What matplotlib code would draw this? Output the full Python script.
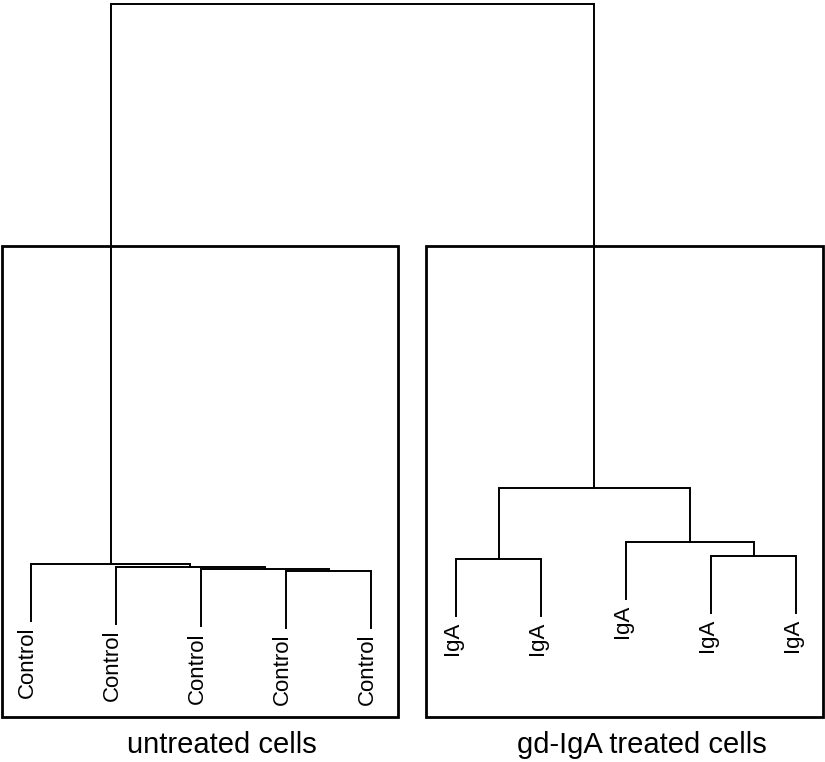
#!/usr/bin/env python
# coding: utf-8

import matplotlib
matplotlib.use('Agg')
from matplotlib import pyplot as plt
from matplotlib.patches import Rectangle

plt.rcParams['font.family'] = ['Liberation Sans', 'DejaVu Sans']

# leaves in plotting order
leaf_labels = ['Control'] * 5 + ['IgA'] * 5

# merges, R hclust style: negative = leaf number, positive = earlier merge (1-based)
merge_a = [-4, -3, -2, -1, -9, -6, -8, 6, 4]
merge_b = [-5, 1, 2, 3, -10, -7, 5, 7, 8]
merge_height = [10.85, 11.16, 11.48, 11.95, 13.21, 12.74, 15.41, 23.9, 100.0]

hang = 9.0

# cluster boxes (rect.hclust) and their captions
group_leaves = [(1, 5), (6, 10)]
group_names = ['untreated cells', 'gd-IgA treated cells']
group_label_x = [3.25, 8.19]


def node_position(idx, positions, heights):
    if idx < 0:
        return float(-idx), None
    return positions[idx - 1], heights[idx - 1]


def draw_dendrogram(ax):
    """
    Draws the dendrogram from the merge table, leaves hang below their parent.
    """
    positions = []
    for a, b, h in zip(merge_a, merge_b, merge_height):
        xa, ha = node_position(a, positions, merge_height)
        xb, hb = node_position(b, positions, merge_height)
        ya = h - hang if ha is None else ha
        yb = h - hang if hb is None else hb
        ax.plot([xa, xa, xb, xb], [ya, h, h, yb], color='k', lw=1.4,
                solid_joinstyle='miter', clip_on=False)
        if ha is None:
            ax.text(xa - 0.04, ya - 0.9, leaf_labels[-a - 1], rotation=90,
                    ha='center', va='top', fontsize=16)
        if hb is None:
            ax.text(xb - 0.04, yb - 0.9, leaf_labels[-b - 1], rotation=90,
                    ha='center', va='top', fontsize=16)
        positions.append((xa + xb) / 2)


fig = plt.figure(figsize=(8.25, 7.62), dpi=100)
ax = fig.add_axes([0, 0, 1, 1])
ax.set_xlim(0.635, 10.341)
ax.set_ylim(-19.18, 100.63)
ax.axis('off')

draw_dendrogram(ax)

pad_left = [0.347, 0.353]
pad_right = [0.318, 0.318]
box_top, box_bottom = 62.0, -12.1
for (lo, hi), pl, pr, name, lx in zip(group_leaves, pad_left, pad_right, group_names, group_label_x):
    ax.add_patch(Rectangle((lo - pl, box_bottom), (hi + pr) - (lo - pl), box_top - box_bottom,
                           fill=False, ec='k', lw=2, clip_on=False))
    ax.text(lx, -16.5, name, ha='center', va='center', fontsize=21)

fig.savefig('out.png', dpi=100)
